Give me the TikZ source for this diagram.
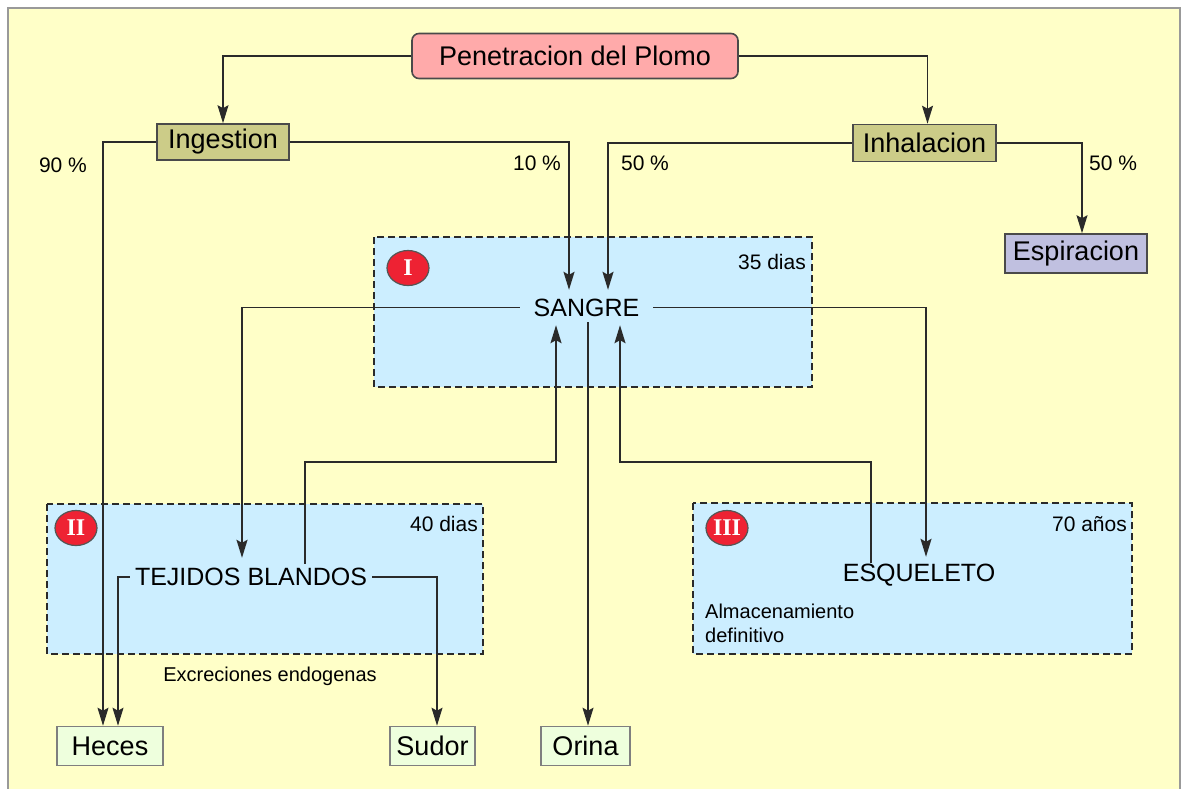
\documentclass[tikz,border=0pt]{standalone}
\usepackage{fontspec}
\setmainfont{Liberation Sans}
\newfontfamily\romfont{Liberation Serif}
\usetikzlibrary{arrows.meta,calc,shapes.geometric}
\definecolor{bgyel}{HTML}{FFFFC8}
\definecolor{frame}{HTML}{999999}
\definecolor{pinkc}{HTML}{FFAAAA}
\definecolor{olivec}{HTML}{CCCC88}
\definecolor{lavc}{HTML}{C0C0E0}
\definecolor{bluec}{HTML}{CCEEFF}
\definecolor{greenc}{HTML}{EEFFDD}
\definecolor{redc}{HTML}{EE2233}
\definecolor{linec}{HTML}{2A2A2A}
\tikzset{
  x=1pt,y=-1pt,
  arr/.style={draw=linec,line width=1.5pt,-{Stealth[length=18pt,width=11pt,inset=3pt]}},
  boxn/.style={draw=linec!85,line width=1.6pt,inner sep=0pt,font=\fontsize{27}{30}\selectfont},
  zone/.style={draw=linec,fill=bluec,dash pattern=on 7pt off 4pt,line width=2pt},
  txtn/.style={inner sep=0pt,font=\fontsize{25}{30}\selectfont},
  pct/.style={font=\fontsize{21}{25}\selectfont,inner sep=0pt},
  small/.style={font=\fontsize{20}{24}\selectfont,inner sep=0pt},
  badge/.style={ellipse,draw=linec!80,line width=1.2pt,fill=redc,minimum width=42pt,minimum height=35pt,inner sep=0pt,text=white,font=\romfont\bfseries\fontsize{24}{26}\selectfont},
}
\begin{document}
\begin{tikzpicture}
\useasboundingbox (0,0) rectangle (1182,788);
\fill[white] (0,0) rectangle (1182,788);
\draw[frame,fill=bgyel,line width=1.5pt] (8,8) rectangle (1180,795);

% zones
\draw[zone] (374,237) rectangle (812,387);
\draw[zone] (47,504) rectangle (483,654);
\draw[zone] (693,503) rectangle (1132,654);

\node[badge] (b1) at (408,268) {I};
\node[badge] (b2) at (76,528) {II};
\node[badge] (b3) at (727,528) {III};

\node[pct,anchor=east] (d1) at (806,262) {35 dias};
\node[pct,anchor=east] (d2) at (478,524) {40 dias};
\node[pct,anchor=east] (d3) at (1127,524) {70 años};

% main nodes
\node[boxn,fill=pinkc,rounded corners=7pt,minimum width=326pt,minimum height=45pt] (pen) at (575,56) {Penetracion del Plomo};
\node[boxn,fill=olivec,minimum width=132pt,minimum height=36pt] (ing) at (223,142) {Ingestion};
\node[boxn,fill=olivec,minimum width=143pt,minimum height=37pt] (inh) at (924.5,143) {Inhalacion};
\node[boxn,fill=lavc,minimum width=142pt,minimum height=39pt] (esp) at (1076,253.5) {Espiracion};

\node[txtn,minimum width=133pt,minimum height=35pt] (sangre) at (586.5,307.5) {SANGRE};
\node[txtn,minimum width=242pt,minimum height=38pt] (tej) at (251,577) {TEJIDOS BLANDOS};
\node[txtn,minimum width=170pt,minimum height=36pt] (esq) at (919,575) {ESQUELETO};

\node[boxn,draw=linec!60,fill=greenc,minimum width=106pt,minimum height=39pt] (heces) at (110,746) {Heces};
\node[boxn,draw=linec!60,fill=greenc,minimum width=85pt,minimum height=39pt] (sudor) at (432.5,746) {Sudor};
\node[boxn,draw=linec!60,fill=greenc,minimum width=89pt,minimum height=39pt] (orina) at (585.5,746) {Orina};

% labels
\node[pct] (p90) at (63,165) {90 \%};
\node[pct] (p10) at (537,163) {10 \%};
\node[pct] (p50a) at (645,163) {50 \%};
\node[pct] (p50b) at (1113,163) {50 \%};
\node[small] (exc) at (270,676) {Excreciones endogenas};
\node[small,align=left,anchor=north west] (alm) at (705,604) {Almacenamiento\\definitivo};

% connectors
\draw[arr] (pen.west) -| (ing.north);
\draw[arr] (pen.east) -| ([xshift=3]inh.north);
\draw[arr] (ing.west) -| ([xshift=-7]heces.north);
\draw[arr] (ing.east) -| ([xshift=-17.5]sangre.north);
\draw[arr] (inh.west) -| ([xshift=21.5]sangre.north);
\draw[arr] (inh.east) -| ([xshift=6]esp.north);
\draw[arr] (sangre.west) -| ([xshift=-9]tej.north);
\draw[arr] (sangre.east) -| ([xshift=7]esq.north);
\coordinate (jt) at (556,462);
\coordinate (je) at (620,462);
\draw[arr] ([xshift=54,yshift=-6]tej.north) |- (jt) -- (sangre.south -| jt);
\draw[arr] ([xshift=-48,yshift=-6]esq.north) |- (je) -- (sangre.south -| je);
\draw[arr] ([xshift=2.5,yshift=3]orina.north |- sangre.south) -- ([xshift=2.5]orina.north);
\draw[arr] (tej.west) -| ([xshift=8]heces.north);
\draw[arr] (tej.east) -| ([xshift=4.5]sudor.north);
\end{tikzpicture}
\end{document}
